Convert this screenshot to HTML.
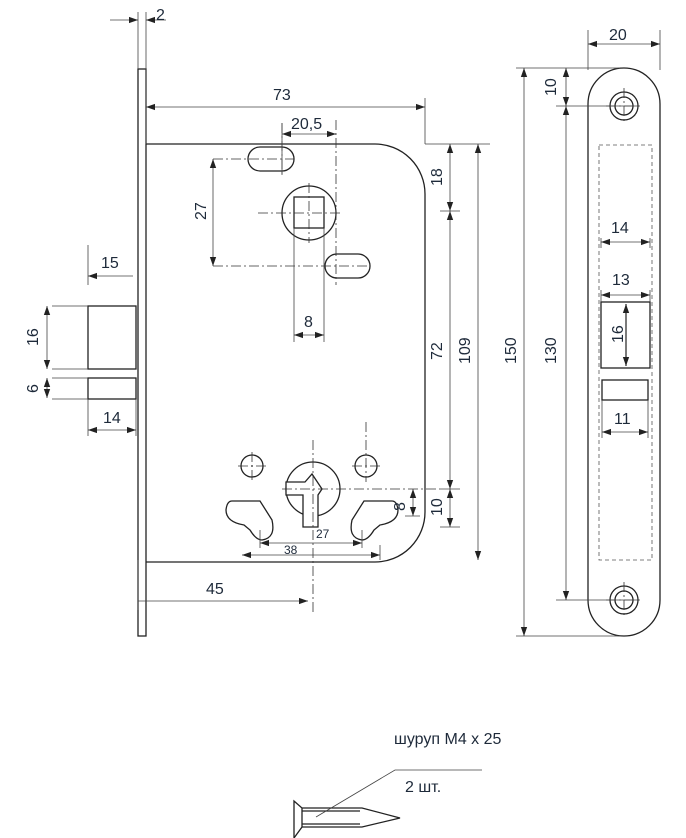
<!DOCTYPE html>
<html><head><meta charset="utf-8"><style>
html,body{margin:0;padding:0;background:#fff}
svg{display:block}
text{font-family:"Liberation Sans",sans-serif;font-size:16px;fill:#1e2a3a}
</style></head><body>
<svg width="686" height="838" viewBox="0 0 686 838" xmlns="http://www.w3.org/2000/svg">
<defs>
<marker id="a" viewBox="0 0 10 10" refX="10" refY="5" markerWidth="9" markerHeight="9" orient="auto-start-reverse" markerUnits="userSpaceOnUse"><path d="M0,1.5 L10,5 L0,8.5z" fill="#222"/></marker>
</defs>
<g fill="none" stroke="#222" stroke-width="1.3">
<rect x="138" y="69" width="8" height="567"/>
<path d="M146,144 H375 A50,50 0 0 1 425,194 V512 A50,50 0 0 1 375,562 H146"/>
<rect x="88" y="306" width="48" height="63"/>
<rect x="88" y="378" width="48" height="21"/>
<rect x="248" y="147" width="46" height="24" rx="12"/>
<rect x="325" y="254" width="45" height="24" rx="12"/>
<circle cx="309" cy="213" r="27"/>
<rect x="294" y="197" width="30" height="31"/>
<circle cx="313" cy="489" r="27"/>
<polygon points="286,482 305,482 312,474 322,489 318,495 318,527 303,527 303,495 286,495" fill="#fff"/>
<circle cx="252" cy="466" r="11"/>
<circle cx="366" cy="466" r="11"/>
<path d="M232,501 H260 L272,520 Q276,538 262,540 Q256,540 250,530 L244,525 Q226,522 226,510 Q227,501 232,501z"/>
<path d="M392,501 H364 L352,520 Q348,538 362,540 Q368,540 374,530 L380,525 Q398,522 398,510 Q397,501 392,501z"/>
<rect x="588" y="68" width="72" height="568" rx="36"/>
<circle cx="624" cy="106" r="14"/><circle cx="624" cy="106" r="9"/>
<circle cx="624" cy="600" r="14"/><circle cx="624" cy="600" r="9"/>
<rect x="601" y="302" width="49" height="66"/>
<rect x="602" y="380" width="46" height="20"/>
<path d="M294,801 L302,808 V827 L294,838z"/>
<path d="M302,808 H362 L400,818 L362,827 H302"/>
<path d="M302,811 H360 M302,824 H360"/>
</g>
<g fill="none" stroke="#555" stroke-width="0.8" stroke-dasharray="4,3">
<rect x="599" y="145" width="53" height="415"/>
</g>
<g fill="none" stroke="#333" stroke-width="0.8" stroke-dasharray="10,3,2,3">
<path d="M282,123 V175 M336,120 V285 M213,159 H294 M213,266 H370 M258,213 H342 M309,183 V243"/>
<path d="M313,440 V615 M282,489 H440 M252,452 V480 M238,466 H266 M366,422 V482 M352,466 H380 M624,88 V124 M606,106 H642 M624,582 V618 M606,600 H642"/>
</g>
<g fill="none" stroke="#444" stroke-width="0.8">
<path d="M138,12 V69 M146,12 V144 M425,98 V144 M425,144 H490 M440,211 H460 M440,489 H460 M440,527 H460 M405,516 H420 M282,123 V175 M294,228 V342 M324,228 V342 M88,245 V285 M52,306 H88 M52,369 H88 M52,378 H88 M52,399 H88 M88,399 V436 M136,399 V436 M260,530 V548 M362,530 V548 M380,545 V560 M588,30 V70 M660,30 V70 M516,68 H620 M556,106 H640 M556,600 H640 M516,636 H620 M601,238 V248 M650,238 V248 M601,290 V302 M650,290 V302 M602,400 V438 M648,400 V438 M138,560 V610"/>
<path d="M110,20 H138" marker-end="url(#a)"/>
<path d="M166,20 H146" marker-end="url(#a)"/>
<path d="M146,107 H425" marker-start="url(#a)" marker-end="url(#a)"/>
<path d="M282,134 H336" marker-start="url(#a)" marker-end="url(#a)"/>
<path d="M213,159 V266" marker-start="url(#a)" marker-end="url(#a)"/>
<path d="M294,335 H324" marker-start="url(#a)" marker-end="url(#a)"/>
<path d="M450,144 V211" marker-start="url(#a)" marker-end="url(#a)"/>
<path d="M450,211 V489" marker-start="url(#a)" marker-end="url(#a)"/>
<path d="M478,144 V560" marker-start="url(#a)" marker-end="url(#a)"/>
<path d="M450,489 V527" marker-start="url(#a)" marker-end="url(#a)"/>
<path d="M413,489 V516" marker-start="url(#a)" marker-end="url(#a)"/>
<path d="M260,543 H362" marker-start="url(#a)" marker-end="url(#a)"/>
<path d="M242,555 H380" marker-start="url(#a)" marker-end="url(#a)"/>
<path d="M138,601 H308" marker-end="url(#a)"/>
<path d="M133,276 H88" marker-end="url(#a)"/>
<path d="M47,306 V369" marker-start="url(#a)" marker-end="url(#a)"/>
<path d="M47,378 V398" marker-start="url(#a)" marker-end="url(#a)"/>
<path d="M88,430 H136" marker-start="url(#a)" marker-end="url(#a)"/>
<path d="M588,44 H660" marker-start="url(#a)" marker-end="url(#a)"/>
<path d="M566,68 V106" marker-start="url(#a)" marker-end="url(#a)"/>
<path d="M566,106 V600" marker-start="url(#a)" marker-end="url(#a)"/>
<path d="M524,68 V636" marker-start="url(#a)" marker-end="url(#a)"/>
<path d="M601,242 H650" marker-start="url(#a)" marker-end="url(#a)"/>
<path d="M601,295 H650" marker-start="url(#a)" marker-end="url(#a)"/>
<path d="M626,304 V366" marker-start="url(#a)" marker-end="url(#a)" stroke="#222" stroke-width="1.2"/>
<path d="M602,432 H648" marker-start="url(#a)" marker-end="url(#a)"/>
<path d="M482,770 H395 L316,817"/>
</g>
<text x="156" y="20">2</text>
<text x="273" y="100">73</text>
<text x="291" y="129">20,5</text>
<text x="304" y="327">8</text>
<text x="101" y="268">15</text>
<text x="103" y="423">14</text>
<text x="206" y="594">45</text>
<text x="284" y="554" style="font-size:12px">38</text>
<text x="316" y="538" style="font-size:12px">27</text>
<text x="609" y="40">20</text>
<text x="611" y="233">14</text>
<text x="612" y="285">13</text>
<text x="614" y="424">11</text>
<text x="394" y="744">шуруп M4 x 25</text>
<text x="405" y="792">2 шт.</text>
<g>
<text transform="translate(206,220) rotate(-90)">27</text>
<text transform="translate(442,186) rotate(-90)">18</text>
<text transform="translate(442,360) rotate(-90)">72</text>
<text transform="translate(470,364) rotate(-90)">109</text>
<text transform="translate(442,516) rotate(-90)">10</text>
<text transform="translate(405,511) rotate(-90)">8</text>
<text transform="translate(38,346) rotate(-90)">16</text>
<text transform="translate(38,393) rotate(-90)">6</text>
<text transform="translate(556,96) rotate(-90)">10</text>
<text transform="translate(556,364) rotate(-90)">130</text>
<text transform="translate(516,364) rotate(-90)">150</text>
<text transform="translate(623,343) rotate(-90)">16</text>
</g>
</svg>
</body></html>
